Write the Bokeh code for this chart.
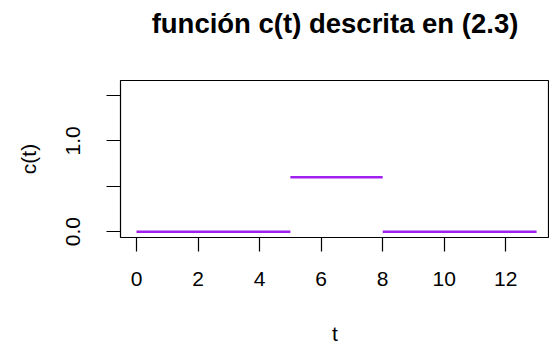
from bokeh.plotting import figure
from bokeh.models import Range1d, FixedTicker, PrintfTickFormatter, LinearAxis
from bokeh.embed import file_html
from bokeh.resources import INLINE

# Data
t_start = [0, 5, 8]
t_end = [5, 8, 13]
c_val = [0.0, 0.6, 0.0]

x_ticks = [0, 2, 4, 6, 8, 10, 12]
y_ticks = [0.0, 0.5, 1.0, 1.5]
y_hidden = {0.5: "", 1.5: ""}

title_text = "función c(t) descrita en (2.3)"
x_label = "t"
y_label = "c(t)"

FONT = "Liberation Sans"

p = figure(width=549, height=347, output_backend="svg", toolbar_location=None,
           x_range=Range1d(-0.52, 13.42), y_range=Range1d(-0.064, 1.664),
           min_border_left=120, min_border_right=0, min_border_top=80, min_border_bottom=109)

p.segment(x0=t_start, y0=c_val, x1=t_end, y1=c_val, line_color="#A020F0",
          line_width=2.5, line_cap="butt")

p.xgrid.visible = False
p.ygrid.visible = False
p.background_fill_color = "white"
p.border_fill_color = "white"
p.outline_line_color = "black"
p.outline_line_width = 1.2
p.outline_line_alpha = 1.0

xax = p.below[0]
yax = p.left[0]

for ax in (xax, yax):
    ax.axis_line_color = None
    ax.major_tick_line_color = "black"
    ax.major_tick_line_width = 1.2
    ax.major_tick_out = 14
    ax.major_tick_in = 0
    ax.minor_tick_line_color = None
    ax.major_label_text_font = FONT
    ax.major_label_text_font_size = "21px"
    ax.major_label_text_color = "black"
    ax.axis_label_text_font = FONT
    ax.axis_label_text_font_size = "21px"
    ax.axis_label_text_font_style = "normal"
    ax.axis_label_text_color = "black"

xax.ticker = FixedTicker(ticks=x_ticks)
xax.axis_label = x_label
xax.major_label_standoff = 20
xax.axis_label_standoff = 33

yax.ticker = FixedTicker(ticks=y_ticks)
yax.formatter = PrintfTickFormatter(format="%.1f")
yax.major_label_overrides = y_hidden
yax.major_label_orientation = "vertical"
yax.axis_label = y_label
yax.major_label_standoff = 26
yax.axis_label_standoff = 24

# main title: carried by a tick-less axis above the frame
p.title.text = ""
top = LinearAxis(ticker=FixedTicker(ticks=[]), axis_label=title_text,
                 axis_line_color=None, major_tick_line_color=None, minor_tick_line_color=None,
                 major_tick_out=0, major_tick_in=0, minor_tick_out=0, major_label_standoff=0,
                 axis_label_standoff=42, axis_label_text_font=FONT,
                 axis_label_text_font_size="27.5px", axis_label_text_font_style="bold",
                 axis_label_text_color="black")
p.add_layout(top, "above")

open("out.html", "w").write(file_html(p, INLINE))
